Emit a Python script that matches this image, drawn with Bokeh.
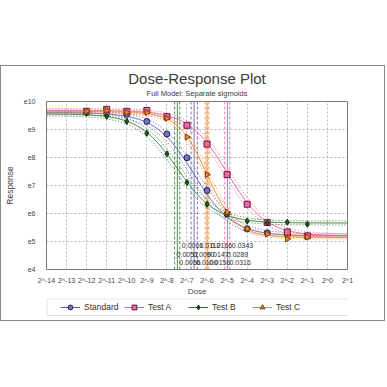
import numpy as np
from bokeh.plotting import figure
from bokeh.layouts import column
from bokeh.models import (FixedTicker, Legend, LegendItem, Range1d, Title, BoxAnnotation)
from bokeh.embed import file_html
from bokeh.resources import INLINE
from bokeh.core.properties import value

# ---------------- data ----------------
series_names = ["Standard", "Test A", "Test B", "Test C"]
dose_log2 = [-12, -11, -10, -9, -8, -7, -6, -5, -4, -3, -2, -1]
resp_standard = [9.61, 9.58, 9.54, 9.29, 8.84, 7.99, 6.82, 5.98, 5.45, 5.31, 5.23, 5.20]
resp_test_a   = [9.65, 9.72, 9.65, 9.68, 9.46, 9.15, 8.48, 7.39, 6.33, 5.68, 5.34, 5.20]
resp_test_b   = [9.58, 9.47, 9.29, 8.87, 8.13, 7.11, 6.33, 5.98, 5.73, 5.66, 5.69, 5.62]
resp_test_c   = [9.65, 9.68, 9.61, 9.61, 9.40, 8.73, 7.39, 6.05, 5.45, 5.27, 5.09, 5.16]

fit_top    = [9.60, 9.68, 9.56, 9.64]
fit_bottom = [5.20, 5.20, 5.66, 5.16]
fit_hill   = [1.5, 1.5, 1.5, 2.0]
ec50_est   = [0.0100, 0.0316, 0.0056, 0.0156]
ec50_lower = [0.0090, 0.0289, 0.0051, 0.0147]
ec50_upper = [0.0112, 0.0343, 0.0061, 0.0166]
band_halfwidth = [0.07, 0.07, 0.07, 0.07]

x_ticks = list(range(-14, 2))
x_tick_labels = ["2^-14", "2^-13", "2^-12", "2^-11", "2^-10", "2^-9", "2^-8", "2^-7",
                 "2^-6", "2^-5", "2^-4", "2^-3", "2^-2", "2^-1", "2^0", "2^1"]
y_ticks = [4, 5, 6, 7, 8, 9, 10]
y_tick_labels = ["e4", "e5", "e6", "e7", "e8", "e9", "e10"]

# ---------------- style ----------------
line_colors = ["#5d5db0", "#ea5c9e", "#2e7d32", "#f4892c"]
fill_colors = ["#7474c0", "#e46aa6", "#1f5a1f", "#f08a2a"]
edge_colors = ["#1c1c5a", "#7a1040", "#0a300a", "#7a3a08"]
markers = ["circle", "square", "diamond", "triangle"]
marker_angles = [0, 0, 0, -np.pi / 2]
FONT = "Liberation Sans"
row_y = [4.85, 4.53, 4.24]

p = figure(width=385, height=232, output_backend="svg", toolbar_location=None,
           x_range=Range1d(-14, 1), y_range=Range1d(4, 10), title_location=None,
           min_border_left=39, min_border_right=37, min_border_top=35, min_border_bottom=27)
p.background_fill_color = "white"
p.border_fill_color = "white"
p.outline_line_color = "#7a7a7a"
p.outline_line_width = 1

for ax in (p.xaxis[0], p.yaxis[0]):
    ax.axis_line_color = None
    ax.major_tick_line_color = None
    ax.minor_tick_line_color = None
    ax.major_label_text_font = FONT
    ax.major_label_text_font_size = "7px"
    ax.major_label_text_color = "#444444"
    ax.axis_label_text_font = FONT
    ax.axis_label_text_font_style = "normal"
    ax.axis_label_text_color = "#444444"
p.xaxis.ticker = FixedTicker(ticks=x_ticks)
p.xaxis.major_label_overrides = dict(zip(x_ticks, x_tick_labels))
p.xaxis.major_label_standoff = 1
p.xaxis.axis_label = "Dose"
p.xaxis.axis_label_text_font_size = "8px"
p.xaxis.axis_label_standoff = 0
p.yaxis.ticker = FixedTicker(ticks=y_ticks)
p.yaxis.major_label_overrides = dict(zip(y_ticks, y_tick_labels))
p.yaxis.major_label_standoff = 5
p.yaxis.axis_label = "Response"
p.yaxis.axis_label_text_font_size = "8.5px"
p.yaxis.axis_label_standoff = 6

for g in (p.xgrid[0], p.ygrid[0]):
    g.grid_line_color = "#b8b8b8"
    g.grid_line_dash = "2 2"
    g.grid_line_width = 1

p.add_layout(Title(text="Full Model: Separate sigmoids", align="center", text_font=FONT,
                   text_font_size="7.5px", text_font_style="normal", text_color="#3a3a3a",
                   vertical_align="top", standoff=4), "above")
p.add_layout(Title(text="Dose-Response Plot", align="center", text_font=FONT,
                   text_font_size="15px", text_font_style="normal", text_color="#3a3a3a",
                   vertical_align="bottom", standoff=0), "above")

def sigmoid(x, top, bottom, ec50, h):
    return bottom + (top - bottom) / (1.0 + 2.0 ** (h * (x - np.log2(ec50))))

xs = np.linspace(-14, 1, 400)
resp_all = [resp_standard, resp_test_a, resp_test_b, resp_test_c]

# vertical EC50 lines
for i in range(4):
    for v, dash in ((ec50_lower[i], "3 2"), (ec50_upper[i], "3 2"), (ec50_est[i], "solid")):
        p.segment(x0=[np.log2(v)], y0=[4], x1=[np.log2(v)], y1=[10],
                  line_color=line_colors[i], line_width=1, line_dash=dash, line_alpha=0.85)

for i in range(4):
    hw = band_halfwidth[i]
    lo = sigmoid(xs, fit_top[i] - hw, fit_bottom[i] - hw, ec50_lower[i], fit_hill[i])
    hi = sigmoid(xs, fit_top[i] + hw, fit_bottom[i] + hw, ec50_upper[i], fit_hill[i])
    p.line(xs, lo, line_color=line_colors[i], line_dash="1 2", line_width=1)
    p.line(xs, hi, line_color=line_colors[i], line_dash="1 2", line_width=1)
    fit = sigmoid(xs, fit_top[i], fit_bottom[i], ec50_est[i], fit_hill[i])
    p.line(xs, fit, line_color=line_colors[i], line_width=1)
    p.scatter(dose_log2, resp_all[i], marker=markers[i], size=6, angle=marker_angles[i],
              fill_color=fill_colors[i], line_color=edge_colors[i], line_width=1)

# EC50 value annotations
for row, vals in enumerate((ec50_upper, ec50_lower, ec50_est)):
    p.text(x=[np.log2(v) for v in vals], y=[row_y[row]] * len(vals),
           text=[f"{v:.4f}" for v in vals], x_offset=2,
           text_font=value(FONT), text_font_size="7px", text_color="#333333",
           text_baseline="middle", text_align="left")

# ---------------- legend strip (frame aligned with the chart frame) ----------------
pl = figure(width=385, height=22, output_backend="svg", toolbar_location=None,
            x_axis_type=None, y_axis_type=None, title_location=None,
            x_range=Range1d(0, 1), y_range=Range1d(0, 1),
            min_border_left=39, min_border_right=37, min_border_top=0, min_border_bottom=0)
pl.outline_line_color = None
pl.xgrid.visible = False
pl.ygrid.visible = False
pl.background_fill_color = "white"
pl.border_fill_color = "white"

legend_items = []
for i in range(4):
    # legend proxies: same series data, lying outside this strip's visible range
    lr = pl.line(x=dose_log2, y=resp_all[i], line_color=line_colors[i], line_width=1)
    sr = pl.scatter(x=dose_log2, y=resp_all[i], marker=markers[i], size=6,
                    angle=marker_angles[i], fill_color=fill_colors[i],
                    line_color=edge_colors[i], line_width=1)
    legend_items.append(LegendItem(label=series_names[i], renderers=[lr, sr]))

pl.add_layout(BoxAnnotation(left=0.5, right=308.5, bottom=5, top=21.5,
                            left_units="screen", right_units="screen",
                            top_units="screen", bottom_units="screen",
                            fill_alpha=0, line_color="#9a9a9a", line_width=1))
legend = Legend(items=legend_items, orientation="horizontal", location=(14, 7),
                glyph_width=20, glyph_height=12, label_width=40, label_height=12,
                spacing=0, padding=0, margin=0, label_standoff=4,
                label_text_font=FONT, label_text_font_size="8.5px",
                label_text_color="#333333", border_line_alpha=0, background_fill_alpha=0)
pl.add_layout(legend)

layout = column(p, pl, spacing=0)
layout.styles = {"margin-top": "65px", "border": "1px solid #8a8a8a", "width": "385px"}

open("out.html", "w").write(file_html(layout, INLINE))
